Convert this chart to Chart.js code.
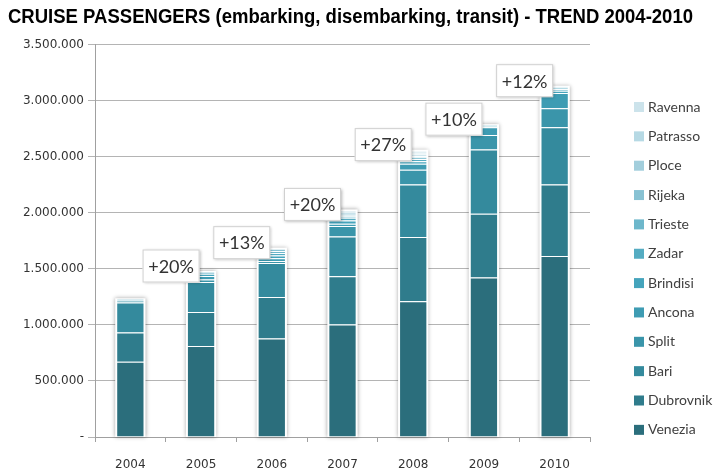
<!DOCTYPE html>
<html>
<head>
<meta charset="utf-8">
<script src="https://cdn.jsdelivr.net/npm/chart.js@4/dist/chart.umd.min.js"></script>
<style>
  html, body { margin: 0; padding: 0; background: #fff; }
  #wrap { width: 715px; height: 471px; }
</style>
</head>
<body>
<div id="wrap"><canvas id="chart"></canvas></div>
<script>
// Cruise passengers per port, stacked by year
const years = ['2004', '2005', '2006', '2007', '2008', '2009', '2010'];

const venezia   = [670000, 812000, 878000, 1003000, 1210000, 1421000, 1613000];
const dubrovnik = [261000, 303000, 370000, 429000, 572000, 569000, 638000];
const bari      = [267000, 267000, 303000, 356000, 469000, 572000, 510000];
const split     = [20000, 21000, 18000, 92000, 131000, 131000, 169000];
const ancona    = [10000, 33000, 24000, 21000, 53000, 68000, 137000];
const brindisi  = [null, 20000, 24000, 30000, 23000, 10000, 20000];
const zadar     = [null, 15000, 23000, 24000, 21000, 9000, 14000];
const trieste   = [null, null, 18000, 10000, 12000, null, 10000];
const rijeka    = [null, null, 21000, 13000, 12000, null, 6000];
const ploce     = [null, null, null, 10000, 15000, null, 3000];
const patrasso  = [null, null, null, 12000, 15000, null, 3000];
const ravenna   = [null, null, null, 20000, 20000, null, null];

const growth = [null, '+20%', '+13%', '+20%', '+27%', '+10%', '+12%'];

const yTicks = [0, 500000, 1000000, 1500000, 2000000, 2500000, 3000000, 3500000];

const series = [
    ['Venezia', venezia, '#2b6e7c'],
    ['Dubrovnik', dubrovnik, '#2f7c8c'],
    ['Bari', bari, '#348a9d'],
    ['Split', split, '#3a95aa'],
    ['Ancona', ancona, '#3e9cb3'],
    ['Brindisi', brindisi, '#45a4bc'],
    ['Zadar', zadar, '#55acc2'],
    ['Trieste', trieste, '#6db7cb'],
    ['Rijeka', rijeka, '#88c2d3'],
    ['Ploce', ploce, '#a2cedc'],
    ['Patrasso', patrasso, '#b6d9e4'],
    ['Ravenna', ravenna, '#cce3eb']
];

const totals = years.map((y, i) => series.reduce((s, d) => s + (d[1][i] || 0), 0));

function formatDots(v) {
    if (v === 0) return '-';
    return String(v).replace(/\B(?=(\d{3})+(?!\d))/g, '.');
}

// grey halo behind each stacked bar
const barHalo = {
    id: 'barHalo',
    beforeDatasetsDraw(chart) {
        const ctx = chart.ctx;
        const yScale = chart.scales.y;
        const meta = chart.getDatasetMeta(0);
        ctx.save();
        meta.data.forEach((el, i) => {
            const top = yScale.getPixelForValue(totals[i]);
            const base = yScale.getPixelForValue(0);
            ctx.shadowColor = 'rgba(0,0,0,0.35)';
            ctx.shadowBlur = 4;
            ctx.fillStyle = '#ffffff';
            ctx.fillRect(el.x - el.width / 2 - 1, top - 1, el.width + 2, base - top + 1);
        });
        ctx.restore();
    }
};

// growth boxes next to each bar top
const growthBoxes = {
    id: 'growthBoxes',
    afterDatasetsDraw(chart) {
        const ctx = chart.ctx;
        const xScale = chart.scales.x;
        const yScale = chart.scales.y;
        ctx.save();
        growth.forEach((g, i) => {
            if (!g) return;
            const cx = xScale.getPixelForValue(i) - 30;
            const cy = yScale.getPixelForValue(totals[i]) - 6;
            const w = 57, h = 33;
            ctx.shadowColor = 'rgba(0,0,0,0.3)';
            ctx.shadowBlur = 3;
            ctx.shadowOffsetX = 1;
            ctx.shadowOffsetY = 1;
            ctx.fillStyle = '#ffffff';
            ctx.fillRect(cx - w / 2, cy - h / 2, w, h);
            ctx.shadowColor = 'transparent';
            ctx.strokeStyle = '#d0d0d0';
            ctx.lineWidth = 1;
            ctx.strokeRect(cx - w / 2 + 0.5, cy - h / 2 + 0.5, w - 1, h - 1);
            ctx.fillStyle = '#333333';
            ctx.font = '18px Lato, "Open Sans", sans-serif';
            ctx.textAlign = 'center';
            ctx.textBaseline = 'middle';
            ctx.fillText(g, cx, cy + 1);
        });
        ctx.restore();
    }
};

// legend column on the right, top item is the last series
const sideLegend = {
    id: 'sideLegend',
    afterDraw(chart) {
        const ctx = chart.ctx;
        const sets = chart.data.datasets;
        ctx.save();
        ctx.font = '14px Lato, "Open Sans", sans-serif';
        ctx.textBaseline = 'middle';
        ctx.textAlign = 'left';
        for (let k = 0; k < sets.length; k++) {
            const ds = sets[sets.length - 1 - k];
            const y = 107 + k * 29.35;
            ctx.fillStyle = ds.backgroundColor;
            ctx.fillRect(634, y - 5, 10, 10);
            ctx.fillStyle = '#404040';
            ctx.fillText(ds.label, 648, y);
        }
        ctx.restore();
    }
};

const chart = new Chart(document.getElementById('chart'), {
    type: 'bar',
    data: {
        labels: years,
        datasets: series.map(s => ({
            label: s[0],
            data: s[1],
            backgroundColor: s[2],
            borderColor: '#ffffff',
            borderWidth: 1,
            barPercentage: 0.4,
            categoryPercentage: 1
        }))
    },
    options: {
        responsive: true,
        maintainAspectRatio: false,
        animation: false,
        layout: { padding: { left: 8, right: 22, top: 0, bottom: 0 } },
        plugins: {
            legend: { display: false },
            tooltip: { enabled: false },
            title: {
                display: true,
                text: 'CRUISE PASSENGERS (embarking, disembarking, transit) - TREND 2004-2010',
                align: 'start',
                color: '#000000',
                font: { family: '"Liberation Sans Narrow", "Liberation Sans", Arial, sans-serif', size: 19.4, weight: 'bold', lineHeight: 1 },
                padding: { top: 8, bottom: 17 }
            }
        },
        scales: {
            x: {
                stacked: true,
                offset: true,
                afterFit(scale) { scale.height = 34; },
                grid: { display: true, drawOnChartArea: false, offset: true, tickLength: 5, color: '#a0a0a0' },
                border: { color: '#a0a0a0' },
                ticks: { color: '#333333', font: { family: '"DejaVu Sans", Verdana, sans-serif', size: 12 }, padding: 16 }
            },
            y: {
                stacked: true,
                min: 0,
                max: 3500000,
                afterBuildTicks(scale) { scale.ticks = yTicks.map(v => ({ value: v })); },
                afterFit(scale) { scale.width = 87; },
                grid: { color: '#b4b4b4', tickLength: 7 },
                border: { color: '#a0a0a0' },
                ticks: {
                    color: '#333333',
                    font: { family: '"DejaVu Sans", Verdana, sans-serif', size: 12 },
                    padding: 4,
                    callback: v => formatDots(v)
                }
            },
            // empty axis that keeps room for the legend column
            side: {
                position: 'right',
                display: true,
                afterFit(scale) { scale.width = 103; },
                grid: { display: false },
                border: { display: false },
                ticks: { display: false }
            }
        }
    },
    plugins: [barHalo, growthBoxes, sideLegend]
});
</script>
</body>
</html>
